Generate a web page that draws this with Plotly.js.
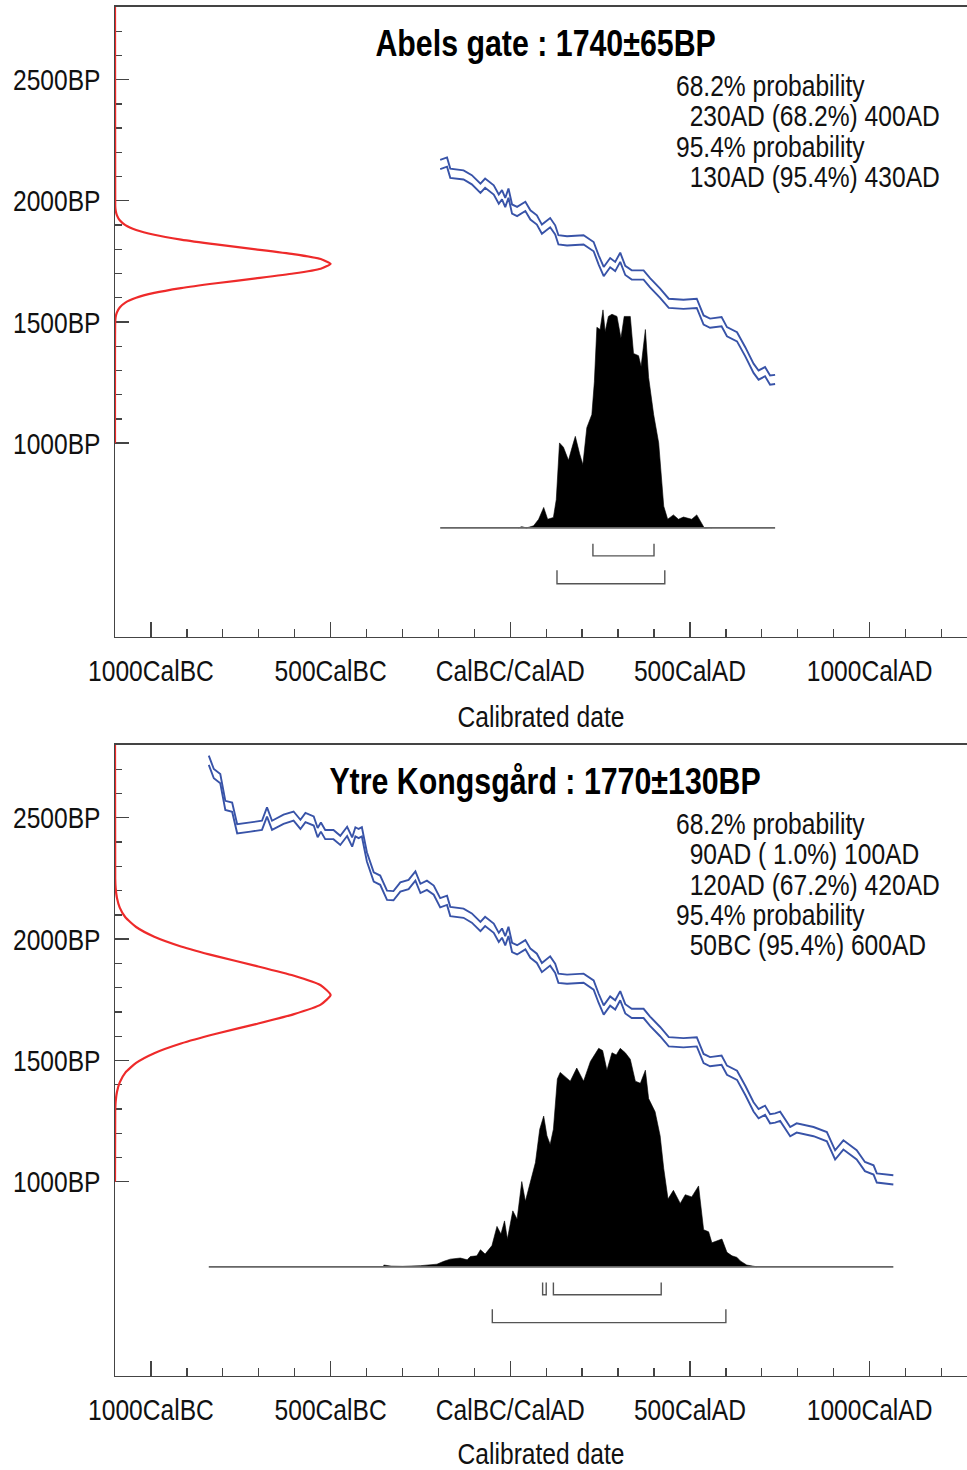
<!DOCTYPE html>
<html><head><meta charset="utf-8">
<script src="https://cdn.plot.ly/plotly-3.0.1.min.js"></script>
<style>html,body{margin:0;padding:0;background:#fff}#chart{width:967px;height:1470px}</style>
</head><body><div id="chart"></div>
<script>
// ---------- DATA ----------
// Calibration curve (calendar year, negative = BC) and radiocarbon age (BP)
const calYear = [-839,-825,-807,-793,-774,-760,-723,-691,-677,-663,-631,-603,-584,-570,-547,-536,-527,-515,-492,-473,-454,-440,-431,-422,-413,-399,-380,-362,-343,-325,-306,-283,-264,-250,-232,-213,-195,-186,-176,-167,-130,-107,-83,-70,-46,-32,-23,-14,-5,5,19,42,56,74,88,111,125,134,158,204,232,246,260,278,292,306,320,338,371,389,417,441,482,519,538,556,588,603,631,654,677,691,709,723,737,751,779,797,844,881,904,927,964,987,1011,1020,1066];
const calBP   = [2737,2682,2661,2551,2544,2455,2462,2469,2524,2469,2494,2507,2473,2501,2487,2439,2462,2431,2431,2407,2444,2400,2442,2435,2442,2339,2256,2243,2181,2179,2215,2225,2260,2209,2222,2202,2150,2156,2160,2114,2107,2087,2052,2073,2045,2007,2025,1993,2032,1966,1956,1977,1942,1921,1883,1910,1880,1839,1835,1839,1811,1756,1708,1745,1729,1767,1713,1694,1694,1662,1619,1577,1573,1577,1508,1495,1501,1460,1439,1377,1309,1281,1295,1260,1263,1270,1207,1222,1207,1186,1111,1152,1111,1063,1049,1016,1008];
const calSigma = 19;

// Panel 1: Abels gate
const topName = "Abels gate : 1740±65BP";
const topCurveSpan = [-195, 737];
const topRedBP   = [1000,1500,1520,1540,1560,1580,1600,1620,1640,1660,1680,1700,1720,1740,1760,1780,1800,1820,1840,1860,1880,1900,1920,1940,1960,1980,2800];
const topRedDens = [0,.001,.003,.009,.022,.048,.098,.182,.306,.469,.653,.827,.954,1,.954,.827,.653,.469,.306,.182,.098,.048,.022,.009,.003,.001,0];
const topHistYear = [23,32,45,65,79,93,104,120,128,137,148,162,172,181,193,202,213,227,234,241,250,258,264,273,283,297,308,317,334,343,357,364,376,385,399,413,427,438,454,468,482,505,519,530,540,556,560];
const topHistRel  = [0,.006,0,.01,.04,.094,.04,.048,.13,.39,.37,.31,.37,.42,.34,.29,.46,.52,.67,.92,.91,1.0,.90,.97,.98,.97,.87,.97,.97,.80,.79,.74,.91,.69,.52,.39,.10,.04,.06,.04,.05,.04,.06,.03,0,.002,0];
const top68 = [[230,400]];
const top95 = [[130,430]];
const topLines = ["68.2% probability","\u00a0\u00a0230AD (68.2%) 400AD","95.4% probability","\u00a0\u00a0130AD (95.4%) 430AD"];

// Panel 2: Ytre Kongsgård
const botName = "Ytre Kongsgård : 1770±130BP";
const botCurveSpan = [-839, 1066];
const botRedBP   = [1000,1290,1330,1370,1410,1450,1490,1530,1570,1610,1650,1690,1730,1770,1810,1850,1890,1930,1970,2010,2050,2090,2130,2170,2210,2250,2800];
const botRedDens = [0,.001,.003,.009,.022,.048,.098,.182,.306,.469,.653,.827,.954,1,.954,.827,.653,.469,.306,.182,.098,.048,.022,.009,.003,.001,0];
const botHistYear = [-352,-330,-300,-250,-220,-204,-185,-167,-139,-120,-111,-93,-83,-70,-51,-44,-37,-26,-16,-8,7,19,32,42,56,70,82,93,102,111,120,131,139,153,167,185,204,223,246,257,269,283,295,306,320,334,348,362,376,385,403,417,427,439,454,473,487,505,524,538,552,561,575,589,603,617,631,640,658,686];
const botHistRel  = [.008,.003,.002,.005,.01,.012,.025,.035,.04,.032,.047,.05,.078,.058,.097,.14,.185,.15,.21,.127,.256,.218,.39,.30,.387,.477,.63,.69,.60,.56,.63,.86,.89,.87,.85,.91,.85,.94,1.0,.99,.90,.98,.97,1.0,.98,.95,.85,.84,.90,.77,.71,.60,.45,.31,.35,.29,.33,.32,.37,.17,.16,.11,.12,.127,.066,.05,.043,.027,.008,0];
const bot68 = [[90,100],[120,420]];
const bot95 = [[-50,600]];
const botLines = ["68.2% probability","\u00a0\u00a090AD (\u00a01.0%) 100AD","\u00a0\u00a0120AD (67.2%) 420AD","95.4% probability","\u00a0\u00a050BC (95.4%) 600AD"];

// Axis ticks
const xTickVals = [-1000,-500,0,500,1000];
const xTickText = ["1000CalBC","500CalBC","CalBC/CalAD","500CalAD","1000CalAD"];
const yTickVals = [1000,1500,2000,2500];
const yTickText = ["1000BP","1500BP","2000BP","2500BP"];

// ---------- STYLE ----------
const FONT = "'Liberation Sans', Arial, sans-serif";
const NARROW = 0.82;          // horizontal compression to mimic Arial Narrow
const LINE_EM = 1.01;         // line spacing of the result blocks
const X_RANGE = [-1100, 1271], Y_RANGE = [200, 2800];
const HIST_BASE = 650, HIST_H = 900, RED_AMP = 600;
const BLUE = '#3853a8', RED = '#ee2a2a', AX = '#444';
const BR68 = [585, 535], BR95 = [475, 420];

const yMinor = [];
for (let v = 1100; v <= 2800; v += 100) if (v % 500 !== 0) yMinor.push(v);

function panelTraces(xa, ya, span, redBP, redDens, hYear, hRel, r68, r95) {
  const tr = [];
  const hx = [hYear[0]].concat(hYear, [hYear[hYear.length-1]]);
  const hy = [HIST_BASE].concat(hRel.map(r => HIST_BASE + HIST_H*r), [HIST_BASE]);
  tr.push({x:hx, y:hy, xaxis:xa, yaxis:ya, mode:'lines', fill:'toself', fillcolor:'#000', line:{color:'#000', width:0.6}, hoverinfo:'skip'});
  tr.push({x:span, y:[HIST_BASE, HIST_BASE], xaxis:xa, yaxis:ya, mode:'lines', line:{color:'#666', width:1.8}, hoverinfo:'skip'});
  function brk(ranges, lv) {
    const bx = [], by = [];
    ranges.forEach(r => { bx.push(r[0], r[0], r[1], r[1], null); by.push(lv[0], lv[1], lv[1], lv[0], null); });
    tr.push({x:bx, y:by, xaxis:xa, yaxis:ya, mode:'lines', line:{color:'#555', width:1.4}, hoverinfo:'skip'});
  }
  brk(r68, BR68); brk(r95, BR95);
  const cx = [], up = [], dn = [];
  calYear.forEach((yr, i) => { if (yr >= span[0] && yr <= span[1]) { cx.push(yr); up.push(calBP[i] + calSigma); dn.push(calBP[i] - calSigma); } });
  tr.push({x:cx, y:up, xaxis:xa, yaxis:ya, mode:'lines', line:{color:BLUE, width:1.9}, hoverinfo:'skip'});
  tr.push({x:cx, y:dn, xaxis:xa, yaxis:ya, mode:'lines', line:{color:BLUE, width:1.9}, hoverinfo:'skip'});
  tr.push({x:redDens.map(d => X_RANGE[0] + RED_AMP*d), y:redBP, xaxis:xa, yaxis:ya, mode:'lines', line:{color:RED, width:2.2, shape:'spline', smoothing:0.5}, cliponaxis:false, hoverinfo:'skip'});
  return tr;
}

const data = [].concat(
  panelTraces('x', 'y', topCurveSpan, topRedBP, topRedDens, topHistYear, topHistRel, top68, top95),
  panelTraces('x2', 'y2', botCurveSpan, botRedBP, botRedDens, botHistYear, botHistRel, bot68, bot95)
);

function xAxis(anchor) {
  return {
    domain:[0,1], range:X_RANGE, anchor:anchor, showline:true, mirror:true, linecolor:AX, linewidth:1.5,
    tickmode:'array', tickvals:xTickVals, ticktext:xTickText, ticks:'inside', ticklen:15, tickwidth:1.3, tickcolor:AX,
    minor:{dtick:100, tick0:0, ticks:'inside', ticklen:8, tickwidth:1.3, tickcolor:AX, showgrid:false},
    showgrid:false, zeroline:false, ticklabelstandoff:7,
    tickfont:{family:FONT, size:30, color:'#111'},
    title:{text:'Calibrated date', font:{family:FONT, size:30, color:'#111'}, standoff:19},
    fixedrange:true, layer:'below traces'
  };
}
function yAxis(domain, anchor) {
  return {
    domain:domain, range:Y_RANGE, anchor:anchor, showline:true, linecolor:AX, linewidth:1.5,
    tickmode:'array', tickvals:yTickVals, ticktext:yTickText, ticks:'inside', ticklen:14, tickwidth:1.3, tickcolor:AX,
    minor:{tickmode:'array', tickvals:yMinor, ticks:'inside', ticklen:7, tickwidth:1.3, tickcolor:AX, showgrid:false},
    showgrid:false, zeroline:false, ticklabelstandoff:7,
    tickfont:{family:FONT, size:30, color:'#111'},
    fixedrange:true, layer:'below traces'
  };
}

function textAnns(xa, ya, name, lines) {
  return [
    {xref:xa, yref:ya, x:97, y:2649, text:'<b>' + name + '</b>', showarrow:false, xanchor:'center', yanchor:'middle', align:'center',
     font:{family:FONT, size:37, color:'#000'}},
    {xref:xa, yref:ya, x:455, y:2551, text:lines.join('<br>'), showarrow:false, xanchor:'left', yanchor:'top', align:'left',
     font:{family:FONT, size:30, color:'#111'}}
  ];
}

const layout = {
  width:967, height:1470, margin:{l:115, r:0, t:0, b:0}, showlegend:false,
  paper_bgcolor:'#fff', plot_bgcolor:'#fff',
  xaxis:xAxis('y'), yaxis:yAxis([0.56667, 0.99524], 'x'),
  xaxis2:xAxis('y2'), yaxis2:yAxis([0.06395, 0.49320], 'x2'),
  annotations:[].concat(textAnns('x', 'y', topName, topLines), textAnns('x2', 'y2', botName, botLines))
};

// Arial-Narrow look: compress every text horizontally around its own anchor point,
// and tighten the line spacing of the multi-line result blocks.
function finishTexts(gd) {
  gd.querySelectorAll('.annotation-text tspan.line').forEach(ts => {
    const dy = ts.getAttribute('dy');
    if (dy && /em$/.test(dy)) ts.setAttribute('dy', (parseFloat(dy) * LINE_EM / 1.3) + 'em');
  });
  gd.querySelectorAll('svg text').forEach(t => {
    const x = parseFloat(t.getAttribute('x')) || 0;
    const y = parseFloat(t.getAttribute('y')) || 0;
    const tr = t.getAttribute('transform') || '';
    t.setAttribute('transform', tr + ' translate(' + x + ',' + y + ') scale(' + NARROW + ',1) translate(' + (-x) + ',' + (-y) + ')');
  });
}

Plotly.newPlot('chart', data, layout, {staticPlot:true, displayModeBar:false}).then(finishTexts);
</script></body></html>
